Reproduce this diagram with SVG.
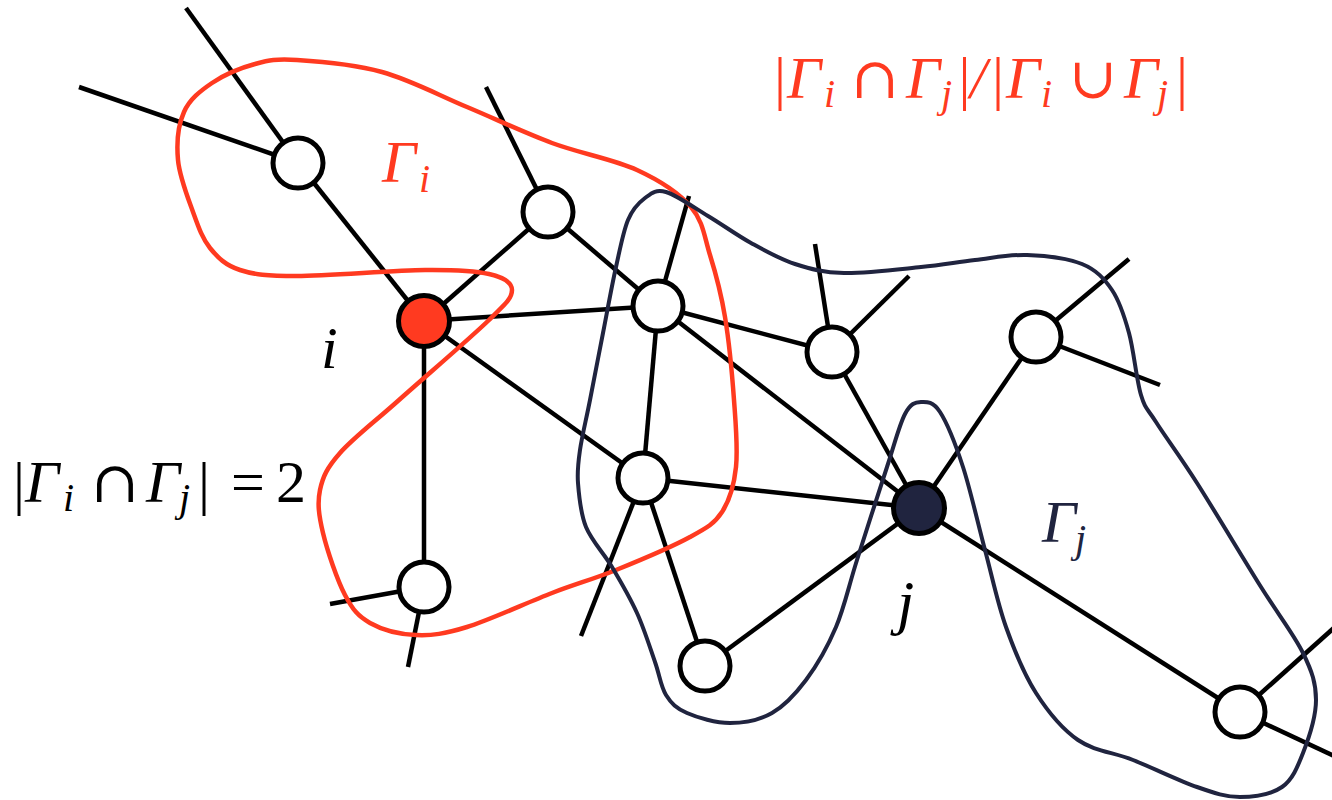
<svg xmlns="http://www.w3.org/2000/svg" width="1332" height="800" viewBox="0 0 1332 800">
<style>
.e{stroke:#000;stroke-width:4.5;stroke-linecap:butt;fill:none}
.n{stroke:#000;stroke-width:5;fill:#fff}
.t{font-family:'Liberation Serif','Times New Roman',serif;font-size:60px}
.it{font-style:italic}
.sub{font-style:italic;font-size:40px}
.op{font-family:'DejaVu Serif',serif;font-size:57px;font-style:normal}
.red{fill:#FF3A20}
.navy{fill:#20243F}
</style>
<rect width="1332" height="800" fill="#fff"/>
<g id="connectors">
<line class="e" x1="186" y1="8" x2="298" y2="163"/>
<line class="e" x1="79" y1="87" x2="298" y2="163"/>
<line class="e" x1="298" y1="163" x2="424" y2="321"/>
<line class="e" x1="486" y1="87" x2="548" y2="212"/>
<line class="e" x1="548" y1="212" x2="424" y2="321"/>
<line class="e" x1="548" y1="212" x2="658" y2="306"/>
<line class="e" x1="424" y1="321" x2="658" y2="306"/>
<line class="e" x1="424" y1="321" x2="643" y2="478"/>
<line class="e" x1="424" y1="321" x2="424" y2="587"/>
<line class="e" x1="330" y1="604" x2="424" y2="587"/>
<line class="e" x1="408" y1="667" x2="424" y2="587"/>
<line class="e" x1="689" y1="196" x2="658" y2="306"/>
<line class="e" x1="658" y1="306" x2="832" y2="352"/>
<line class="e" x1="658" y1="306" x2="643" y2="478"/>
<line class="e" x1="658" y1="306" x2="919" y2="508"/>
<line class="e" x1="815" y1="244" x2="832" y2="352"/>
<line class="e" x1="909" y1="276" x2="832" y2="352"/>
<line class="e" x1="832" y1="352" x2="919" y2="508"/>
<line class="e" x1="1129" y1="259" x2="1036" y2="337"/>
<line class="e" x1="1160" y1="385" x2="1036" y2="337"/>
<line class="e" x1="1036" y1="337" x2="919" y2="508"/>
<line class="e" x1="643" y1="478" x2="919" y2="508"/>
<line class="e" x1="643" y1="478" x2="705" y2="666"/>
<line class="e" x1="581" y1="636" x2="643" y2="478"/>
<line class="e" x1="919" y1="508" x2="705" y2="666"/>
<line class="e" x1="919" y1="508" x2="1240" y2="712"/>
<line class="e" x1="1240" y1="712" x2="1345" y2="618"/>
<line class="e" x1="1240" y1="712" x2="1345" y2="761"/>
</g>
<g id="node-A"><circle class="n" cx="298" cy="163" r="25"/></g>
<g id="node-B"><circle class="n" cx="548" cy="212" r="25"/></g>
<g id="node-i"><circle class="n" cx="424" cy="321" r="25.5" style="fill:#FF3A20"/></g>
<g id="node-C"><circle class="n" cx="658" cy="306" r="25"/></g>
<g id="node-D"><circle class="n" cx="832" cy="352" r="25"/></g>
<g id="node-E"><circle class="n" cx="1036" cy="337" r="25"/></g>
<g id="node-F"><circle class="n" cx="643" cy="478" r="25"/></g>
<g id="node-j"><circle class="n" cx="919" cy="508" r="25.5" style="fill:#20243F"/></g>
<g id="node-G"><circle class="n" cx="424" cy="587" r="25"/></g>
<g id="node-H"><circle class="n" cx="705" cy="666" r="25"/></g>
<g id="node-K"><circle class="n" cx="1240" cy="712" r="25"/></g>
<g id="gamma-i-region">
<path fill="none" stroke="#FF3A20" stroke-width="4.5" d="M297,60 C318.2,61.3 353.7,64.2 382,72 C410.3,79.8 438.7,95.2 467,107 C495.3,118.8 523.7,132.5 552,143 C580.3,153.5 613.8,159.3 637,170 C660.2,180.7 678.8,192.8 691,207 C703.2,221.2 704.3,236.7 710,255 C715.7,273.3 721,292.8 725,317 C729,341.2 732.2,375 734,400 C735.8,425 738,448.3 736,467 C734,485.7 729.7,500.3 722,512 C714.3,523.7 707.7,527.3 690,537 C672.3,546.7 639,560.7 616,570 C593,579.3 576.8,583.5 552,593 C527.2,602.5 489.7,620 467,627 C444.3,634 432.2,635.7 416,635 C399.8,634.3 381.8,629.7 370,623 C358.2,616.3 352.8,610 345,595 C337.2,580 327.2,550.5 323,533 C318.8,515.5 317.2,503.3 320,490 C322.8,476.7 326.8,468 340,453 C353.2,438 374.2,422.2 399,400 C423.8,377.8 470.2,338.3 489,320 C507.8,301.7 512,297.7 512,290 C512,282.3 503.5,277.3 489,274 C474.5,270.7 457,269.7 425,270 C393,270.3 327.8,276 297,276 C266.2,276 254.5,274.7 240,270 C225.5,265.3 217.8,257.7 210,248 C202.2,238.3 198.3,226.7 193,212 C187.7,197.3 179.5,176.7 178,160 C176.5,143.3 178.3,124.8 184,112 C189.7,99.2 200.2,91 212,83 C223.8,75 240.8,67.8 255,64 C269.2,60.2 275.8,58.7 297,60 Z"/>
</g>
<g id="gamma-j-region">
<path fill="none" stroke="#20243F" stroke-width="4" d="M645,198 C651.3,193.3 655.5,189 666,192 C676.5,195 693.8,207.5 708,216 C722.2,224.5 736.5,235 751,243 C765.5,251 779.5,259 795,264 C810.5,269 823,272.5 844,273 C865,273.5 899.2,269.2 921,267 C942.8,264.8 957.3,262 975,260 C992.7,258 1009.2,254.3 1027,255 C1044.8,255.7 1067.8,258.2 1082,264 C1096.2,269.8 1104.2,278.5 1112,290 C1119.8,301.5 1124.2,315.5 1129,333 C1133.8,350.5 1136.5,380.2 1141,395 C1145.5,409.8 1146.7,407.3 1156,422 C1165.3,436.7 1179.5,455.5 1197,483 C1214.5,510.5 1243.3,558.7 1261,587 C1278.7,615.3 1293.8,634.2 1303,653 C1312.2,671.8 1316,683.3 1316,700 C1316,716.7 1308.7,738.5 1303,753 C1297.3,767.5 1292.5,779.7 1282,787 C1271.5,794.3 1254.2,797 1240,797 C1225.8,797 1214.8,793.2 1197,787 C1179.2,780.8 1152.8,767.8 1133,760 C1113.2,752.2 1094.2,751.2 1078,740 C1061.8,728.8 1048,711.8 1036,693 C1024,674.2 1014.5,650.8 1006,627 C997.5,603.2 992.2,576.7 985,550 C977.8,523.3 970.5,490 963,467 C955.5,444 947,422.8 940,412 C933,401.2 926.8,401.7 921,402 C915.2,402.3 910.7,403.2 905,414 C899.3,424.8 895,442.7 887,467 C879,491.3 865.5,533.3 857,560 C848.5,586.7 844.5,607 836,627 C827.5,647 816.7,665.7 806,680 C795.3,694.3 784.7,705.8 772,713 C759.3,720.2 744.2,723 730,723 C715.8,723 697.7,717.7 687,713 C676.3,708.3 671.3,703.5 666,695 C660.7,686.5 659.8,675.7 655,662 C650.2,648.3 644.2,628.8 637,613 C629.8,597.2 620.5,581.3 612,567 C603.5,552.7 591.7,541 586,527 C580.3,513 579,495.8 578,483 C577,470.2 578,463.8 580,450 C582,436.2 586.2,419.5 590,400 C593.8,380.5 598.7,355.2 603,333 C607.3,310.8 611.8,285.8 616,267 C620.2,248.2 623.2,231.5 628,220 C632.8,208.5 638.7,202.7 645,198 Z"/>
</g>
<g id="labels">
<text class="t red"><tspan x="774" y="98">|</tspan><tspan class="it" x="787" y="98">Γ</tspan><tspan class="sub" x="824" y="107">i</tspan><tspan class="op" x="851" y="98">∩</tspan><tspan class="it" x="906" y="98">Γ</tspan><tspan class="sub" x="941" y="107">j</tspan><tspan x="958.5" y="98">|</tspan><tspan class="it" x="970" y="98">/</tspan><tspan x="992" y="98">|</tspan><tspan class="it" x="1006" y="98">Γ</tspan><tspan class="sub" x="1041" y="107">i</tspan><tspan class="op" x="1069" y="98">∪</tspan><tspan class="it" x="1124" y="98">Γ</tspan><tspan class="sub" x="1157" y="107">j</tspan><tspan x="1176" y="98">|</tspan></text>
<text class="t"><tspan x="13" y="503">|</tspan><tspan class="it" x="25" y="502">Γ</tspan><tspan class="sub" x="63" y="511">i</tspan><tspan class="op" x="91" y="502">∩</tspan><tspan class="it" x="146" y="502">Γ</tspan><tspan class="sub" x="179" y="511">j</tspan><tspan x="198" y="503">|</tspan><tspan x="231" y="502">=</tspan><tspan x="276" y="502">2</tspan></text>
<text class="t red"><tspan class="it" x="382" y="182">Γ</tspan><tspan class="sub" x="419" y="192">i</tspan></text>
<text class="t navy"><tspan class="it" x="1042" y="542">Γ</tspan><tspan class="sub" x="1075" y="552">j</tspan></text>
<text class="t it" x="321" y="368">i</text>
<text class="t it" x="897" y="623" style="font-size:62px">j</text>
</g>
</svg>
